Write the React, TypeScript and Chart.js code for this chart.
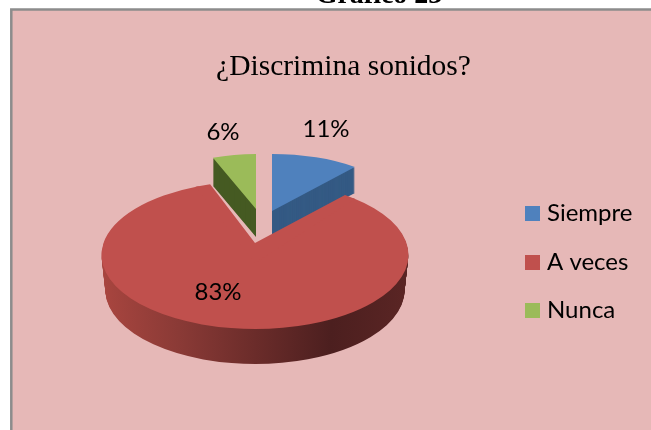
import React, { useEffect, useRef } from "react";
import { Chart, registerables } from "chart.js";

Chart.register(...registerables);

const categories = ["Siempre", "A veces", "Nunca"];
const percentages = [11, 83, 6];
const pieTitle = "¿Discrimina sonidos?";
const caption = "Gráfico 23";

const topColors = ["#4F81BD", "#C0504D", "#9BBB59"];
const sideColors: (string | string[])[] = ["#345A84", ["#A8453F", "#8A3A36", "#6B2C2A", "#4C1F1F", "#5A2524"], "#455A22"];

// Perspective of each exploded slice: centre, horizontal and vertical radii, extrusion depth
const sliceView: any[] = [
  { x: 272, y: 211, rx: 130, ry: 57, depth: 26, taper: 0 },
  { x: 255, y: 255, rx: 153.5, ry: 74, depth: 35, taper: 0.11, apexX: 255, apexY: 243, spreadStart: -3.7, spreadEnd: 4.6 },
  { x: 256, y: 209, rx: 117, ry: 55, depth: 28, taper: 0 },
];
const labelSpots = [
  { x: 326, y: 129 },
  { x: 218, y: 292 },
  { x: 223, y: 132 },
];
const legendRows = [213.5, 262.5, 310.5];

const pie3d = {
  id: "pie3d",
  beforeDraw(chart: any) {
    const { ctx, width, height } = chart;
    ctx.save();
    ctx.fillStyle = "#ffffff";
    ctx.fillRect(0, 0, width, height);
    ctx.fillStyle = "#E6B8B7";
    ctx.strokeStyle = "#8C8C8C";
    ctx.lineWidth = 2.5;
    ctx.beginPath();
    ctx.rect(11.3, 9.5, width + 20, height + 20);
    ctx.fill();
    ctx.stroke();
    ctx.restore();
  },
  beforeDatasetsDraw(chart: any) {
    const { ctx } = chart;
    const arcs = chart.getDatasetMeta(0).data;
    const order = [0, 2, 1];
    for (const i of order) {
      const arc = arcs[i];
      const view = sliceView[i];
      const R = arc.outerRadius;
      const place = (dy: number) => {
        const rx = view.rx - view.taper * dy;
        ctx.translate(view.x, view.y + dy);
        ctx.scale(rx / R, view.ry / R);
        ctx.translate(-arc.x, -arc.y);
      };
      const base = arc.options;
      const side = sideColors[i];
      let sideFill: any = side;
      if (Array.isArray(side)) {
        const g = ctx.createLinearGradient(arc.x - R, 0, arc.x + R, 0);
        side.forEach((c, k) => g.addColorStop(k / (side.length - 1), c));
        sideFill = g;
      }
      for (let d = view.depth; d >= 1; d--) {
        ctx.save();
        place(d);
        arc.options = { ...base, backgroundColor: sideFill, borderWidth: 0 };
        arc.draw(ctx);
        ctx.restore();
      }
      ctx.save();
      place(0);
      arc.options = { ...base, backgroundColor: topColors[i], borderWidth: 0 };
      arc.draw(ctx);
      ctx.restore();
      arc.options = base;

      if (view.apexY !== undefined) {
        // the near slice looks wider at the back and reaches past its centre
        const deg = Math.PI / 180;
        const a0 = arc.startAngle;
        const a1 = arc.endAngle;
        const s0 = a0 + view.spreadStart * deg;
        const s1 = a1 + view.spreadEnd * deg;
        ctx.save();
        ctx.fillStyle = topColors[i];
        ctx.strokeStyle = topColors[i];
        ctx.lineWidth = 1;
        ctx.beginPath();
        ctx.moveTo(view.apexX, view.apexY);
        ctx.lineTo(view.x + view.rx * Math.cos(s0), view.y + view.ry * Math.sin(s0));
        ctx.ellipse(view.x, view.y, view.rx, view.ry, 0, s0, a0 + 0.02);
        ctx.lineTo(view.x, view.y + 8);
        ctx.lineTo(view.x + view.rx * Math.cos(a1 - 0.02), view.y + view.ry * Math.sin(a1 - 0.02));
        ctx.ellipse(view.x, view.y, view.rx, view.ry, 0, a1 - 0.02, s1);
        ctx.closePath();
        ctx.fill();
        ctx.restore();
      }
    }
    return false;
  },
  afterDraw(chart: any) {
    const { ctx } = chart;
    ctx.save();
    ctx.fillStyle = "#000000";
    ctx.font = "24px Lato";
    ctx.textAlign = "center";
    ctx.textBaseline = "middle";
    percentages.forEach((v, i) => {
      ctx.fillText(`${v}%`, labelSpots[i].x, labelSpots[i].y);
    });
    ctx.textAlign = "left";
    categories.forEach((name, i) => {
      ctx.fillStyle = topColors[i];
      ctx.fillRect(525, legendRows[i] - 7.5, 15, 15);
      ctx.fillStyle = "#000000";
      ctx.fillText(name, 547, legendRows[i]);
    });
    ctx.restore();
  },
};

export default function App() {
  const ref = useRef<HTMLCanvasElement>(null);
  useEffect(() => {
    document.body.style.margin = "0";
    document.body.style.overflow = "hidden";
    const chart = new Chart(ref.current as HTMLCanvasElement, {
      type: "pie",
      data: {
        labels: categories,
        datasets: [{ data: percentages, backgroundColor: topColors, borderWidth: 0 }],
      },
      options: {
        animation: false,
        responsive: false,
        devicePixelRatio: 1,
        layout: { padding: { left: 36, right: 0, top: 50, bottom: 100 } },
        plugins: {
          title: {
            display: true,
            text: pieTitle,
            color: "#000000",
            font: { family: "'Liberation Serif'", size: 29.5, weight: "normal" },
            padding: { top: 0, bottom: 0 },
          },
          legend: { display: false },
          tooltip: { enabled: false },
        },
      },
      plugins: [pie3d],
    } as any);
    return () => chart.destroy();
  }, []);
  return (
    <div style={{ position: "relative", width: 651, height: 430, overflow: "hidden" }}>
      <canvas ref={ref} width={651} height={430} style={{ display: "block" }} />
      <div
        style={{
          position: "absolute",
          left: 0,
          width: 758,
          top: -20,
          textAlign: "center",
          font: "bold 28px/28px 'Liberation Serif'",
          color: "#000",
        }}
      >
        {caption}
      </div>
    </div>
  );
}
